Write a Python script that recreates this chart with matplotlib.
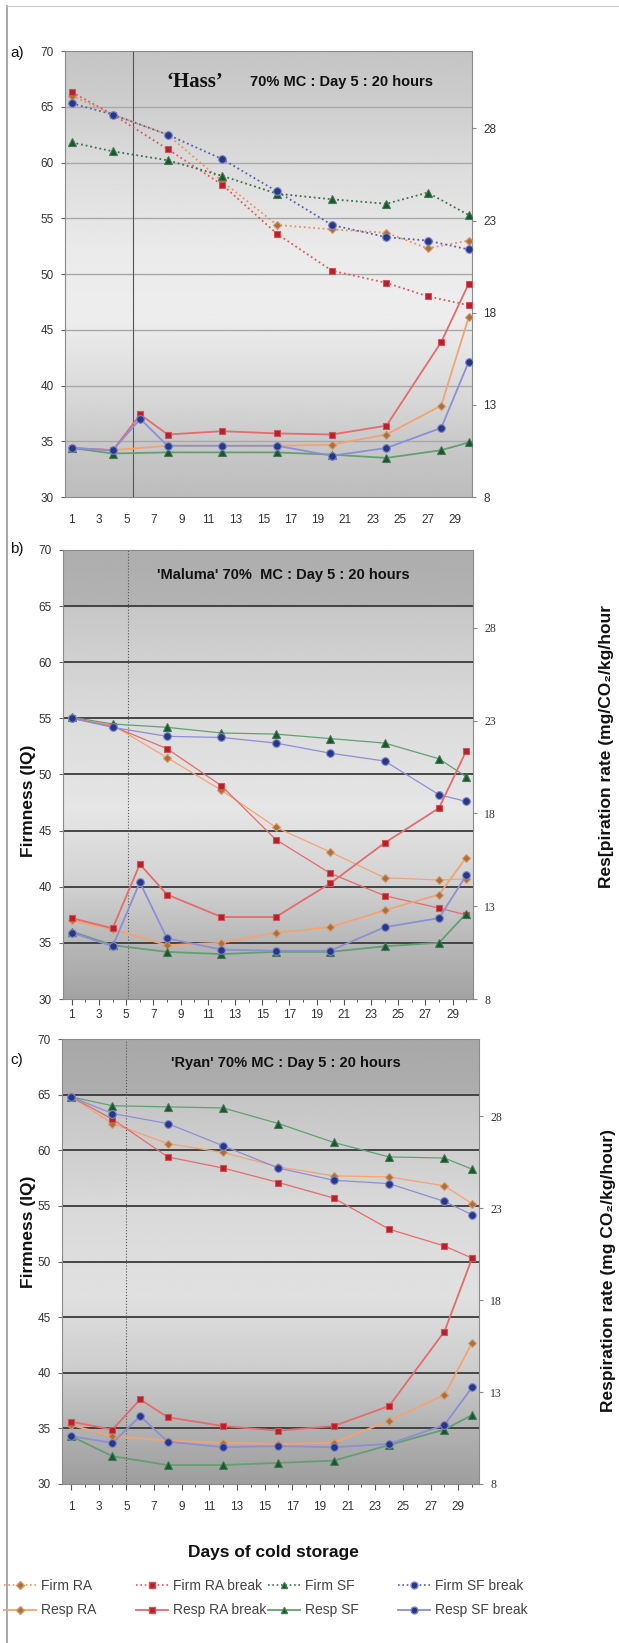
import numpy as np
import matplotlib
matplotlib.use('Agg')
import matplotlib.pyplot as plt
from matplotlib.lines import Line2D
from matplotlib.ticker import MultipleLocator

plt.rcParams['font.family'] = ['Liberation Sans', 'DejaVu Sans']

W, H = 619, 1643

# sampling days
firm_days_hass = [1, 4, 8, 12, 16, 20, 24, 27, 30]
firm_days = [1, 4, 8, 12, 16, 20, 24, 28, 30]
resp_days = [1, 4, 8, 12, 16, 20, 24, 28, 30]
resp_days_break = [1, 4, 6, 8, 12, 16, 20, 24, 28, 30]

# a) Hass  (firmness on left axis, respiration on right axis)
hass_firm_ra = [66.0, 64.3, 62.5, 58.3, 54.4, 54.0, 53.7, 52.3, 53.0]
hass_firm_ra_break = [66.3, 64.3, 61.2, 58.0, 53.6, 50.3, 49.2, 48.0, 47.2]
hass_firm_sf = [61.8, 61.0, 60.2, 58.8, 57.2, 56.7, 56.3, 57.3, 55.3]
hass_firm_sf_break = [65.3, 64.3, 62.5, 60.3, 57.4, 54.4, 53.3, 53.0, 52.2]
hass_resp_ra = [10.66, 10.54, 10.78, 10.78, 10.78, 10.84, 11.39, 12.96, 17.74]
hass_resp_ra_break = [10.66, 10.54, 12.48, 11.39, 11.57, 11.45, 11.39, 11.87, 16.41, 19.56]
hass_resp_sf = [10.66, 10.36, 10.42, 10.42, 10.42, 10.30, 10.12, 10.54, 10.96]
hass_resp_sf_break = [10.66, 10.54, 12.24, 10.78, 10.78, 10.78, 10.24, 10.66, 11.75, 15.32]

# b) Maluma
mal_firm_ra = [55.0, 54.4, 51.5, 48.6, 45.3, 43.1, 40.8, 40.6, 40.7]
mal_firm_ra_break = [55.0, 54.3, 52.3, 49.0, 44.2, 41.2, 39.2, 38.1, 37.5]
mal_firm_sf = [55.1, 54.5, 54.2, 53.7, 53.6, 53.2, 52.8, 51.4, 49.8]
mal_firm_sf_break = [55.0, 54.2, 53.4, 53.3, 52.8, 51.9, 51.2, 48.2, 47.6]
mal_resp_ra = [12.24, 11.75, 10.90, 11.03, 11.57, 11.87, 12.78, 13.63, 15.62]
mal_resp_ra_break = [12.36, 11.81, 15.26, 13.63, 12.42, 12.42, 14.23, 16.41, 18.29, 21.37]
mal_resp_sf = [11.63, 10.90, 10.54, 10.42, 10.54, 10.54, 10.84, 11.03, 12.60]
mal_resp_sf_break = [11.57, 10.84, 14.29, 11.27, 10.66, 10.60, 10.60, 11.87, 12.36, 14.66]

# c) Ryan
ryan_firm_ra = [64.8, 62.4, 60.6, 59.8, 58.5, 57.7, 57.6, 56.8, 55.2]
ryan_firm_ra_break = [64.8, 62.8, 59.4, 58.4, 57.1, 55.7, 52.9, 51.4, 50.3]
ryan_firm_sf = [64.8, 64.0, 63.9, 63.8, 62.4, 60.7, 59.4, 59.3, 58.3]
ryan_firm_sf_break = [64.8, 63.3, 62.4, 60.4, 58.4, 57.3, 57.0, 55.4, 54.2]
ryan_resp_ra = [11.21, 10.60, 10.36, 10.24, 10.18, 10.24, 11.45, 12.84, 15.68]
ryan_resp_ra_break = [11.39, 10.96, 12.60, 11.63, 11.15, 10.90, 11.15, 12.24, 16.29, 20.28]
ryan_resp_sf = [10.60, 9.51, 9.03, 9.03, 9.15, 9.27, 10.12, 10.96, 11.75]
ryan_resp_sf_break = [10.60, 10.24, 11.69, 10.30, 10.00, 10.06, 10.00, 10.18, 11.21, 13.26]

firm_labels = ['Firm RA', 'Firm RA break', 'Firm SF', 'Firm SF break']
resp_labels = ['Resp RA', 'Resp RA break', 'Resp SF', 'Resp SF break']
left_ticks = [30, 35, 40, 45, 50, 55, 60, 65, 70]
right_ticks = [8, 13, 18, 23, 28]
x_ticks = list(range(1, 30, 2))

# styles
markers = ['D', 's', '^', 'o']
msizes = [4.5, 5.0, 5.5, 5.5]
line_cols = ['#f3a373', '#e46c6c', '#62a072', '#8e8ed6']
dot_cols = ['#e8935e', '#de5a5a', '#3d6e4e', '#5562a6']
face_cols = ['#a8703f', '#b3202f', '#1c5530', '#283784']
edge_cols = ['#d99a6a', '#d85050', '#3f7a52', '#7c86d0']

fig = plt.figure(figsize=(W / 100, H / 100), dpi=100)


def px_rect(l, t, r, b):
    return [l / W, 1 - b / H, (r - l) / W, (b - t) / H]


def add_bg(ax, stops, xlim):
    lv = np.linspace(30, 70, 300)
    g = np.interp(lv, [s[0] for s in stops], [s[1] for s in stops])
    img = np.repeat(g[:, None], 2, axis=1)
    ax.imshow(img, extent=(xlim[0], xlim[1], 30, 70), origin='lower', cmap='gray',
              vmin=0, vmax=1, aspect='auto', zorder=0, interpolation='bilinear')


def panel(rect, xlim, fdays, firm, resp, bg, grid_col, grid_lw, vx, vls,
          firm_dotted, rfont, xpad, minor):
    ax = fig.add_axes(rect)
    add_bg(ax, bg, xlim)
    for v in left_ticks[1:-1]:
        ax.axhline(v, color=grid_col, lw=grid_lw, zorder=1)
    ax.axvline(vx, color='#555555', lw=0.8, ls=vls, zorder=1)

    for i in range(4):
        if firm_dotted:
            ax.plot(fdays, firm[i], color=dot_cols[i], lw=1.3, ls=(0, (1, 1.6)), zorder=3)
        else:
            ax.plot(fdays, firm[i], color=line_cols[i], lw=0.9, zorder=3)
        ax.plot(fdays, firm[i], ls='none', marker=markers[i], ms=msizes[i],
                mfc=face_cols[i], mec=edge_cols[i], mew=0.8, zorder=4)

    ax.set_xlim(*xlim)
    ax.set_ylim(30, 70)
    ax.set_yticks(left_ticks)
    ax.set_xticks(x_ticks)
    if minor:
        ax.xaxis.set_minor_locator(MultipleLocator(1))
        ax.tick_params(axis='x', which='major', length=4, width=0.8, color='#555555',
                       pad=xpad, labelsize=8.5, labelcolor='#333333')
        ax.tick_params(axis='x', which='minor', length=2.5, width=0.7, color='#555555')
    else:
        ax.tick_params(axis='x', length=0, pad=xpad, labelsize=8.5, labelcolor='#333333')
    ax.tick_params(axis='y', length=3, width=0.8, color='#666666', pad=5,
                   labelsize=8.5, labelcolor='#333333')
    for s in ax.spines.values():
        s.set_color('#8a8a8a')
        s.set_linewidth(0.8)

    ax2 = ax.twinx()
    for i in range(4):
        d = resp_days_break if i % 2 == 1 else resp_days
        ax2.plot(d, resp[i], color=line_cols[i], lw=1.3, marker=markers[i], ms=msizes[i],
                 mfc=face_cols[i], mec=edge_cols[i], mew=0.8, zorder=3)
    ax2.set_ylim(8, 32.2)
    ax2.set_yticks(right_ticks)
    ax2.tick_params(axis='y', length=3, width=0.8, color='#888888', pad=5,
                    labelsize=8.5, labelcolor='#333333')
    for lab in ax2.get_yticklabels():
        lab.set_family(rfont)
    for s in ax2.spines.values():
        s.set_visible(False)
    return ax, ax2


bg_a = [(30, 0.74), (35, 0.79), (40, 0.86), (46, 0.93), (52, 0.92), (60, 0.86), (66, 0.80), (70, 0.77)]
bg_b = [(30, 0.64), (35, 0.72), (40, 0.82), (47, 0.90), (55, 0.86), (64.9, 0.78), (65.1, 0.70), (70, 0.68)]
bg_c = [(30, 0.62), (35, 0.70), (40, 0.80), (47, 0.88), (55, 0.85), (64.9, 0.77), (65.1, 0.68), (70, 0.66)]

ax_a, _ = panel(px_rect(65, 51, 472, 497), (0.5, 30.25), firm_days_hass,
                [hass_firm_ra, hass_firm_ra_break, hass_firm_sf, hass_firm_sf_break],
                [hass_resp_ra, hass_resp_ra_break, hass_resp_sf, hass_resp_sf_break],
                bg_a, '#a8a8a8', 1.0, 5.5, '-', True, 'Liberation Sans', 12, False)
ax_b, _ = panel(px_rect(63, 550, 473, 999), (0.35, 30.5), firm_days,
                [mal_firm_ra, mal_firm_ra_break, mal_firm_sf, mal_firm_sf_break],
                [mal_resp_ra, mal_resp_ra_break, mal_resp_sf, mal_resp_sf_break],
                bg_b, '#3a3a3a', 1.3, 5.1, ':', False, 'Liberation Serif', 3, True)
ax_c, _ = panel(px_rect(62, 1039, 479, 1484), (0.35, 30.5), firm_days,
                [ryan_firm_ra, ryan_firm_ra_break, ryan_firm_sf, ryan_firm_sf_break],
                [ryan_resp_ra, ryan_resp_ra_break, ryan_resp_sf, ryan_resp_sf_break],
                bg_c, '#3a3a3a', 1.3, 5.0, ':', False, 'Liberation Serif', 8, True)

# panel titles
ax_a.text(0.25, 0.93, '\u2018Hass\u2019', transform=ax_a.transAxes, ha='left', va='center',
          fontsize=15, fontweight='bold', family='Liberation Serif', color='#111111')
ax_a.text(0.455, 0.93, '70% MC : Day 5 : 20 hours', transform=ax_a.transAxes, ha='left',
          va='center', fontsize=10.5, fontweight='bold', color='#111111')
ax_b.text(0.23, 0.944, "'Maluma' 70%  MC : Day 5 : 20 hours", transform=ax_b.transAxes,
          ha='left', va='center', fontsize=10.5, fontweight='bold', color='#111111')
ax_c.text(0.262, 0.947, "'Ryan' 70% MC : Day 5 : 20 hours", transform=ax_c.transAxes,
          ha='left', va='center', fontsize=10.5, fontweight='bold', color='#111111')

# panel letters
for lab, y in [('a)', 53), ('b)', 549), ('c)', 1060)]:
    fig.text(10 / W, 1 - y / H, lab, fontsize=11, color='#111111', va='center', ha='left')

# axis labels
fig.text(28 / W, 1 - 801 / H, 'Firmness (IQ)', rotation=90, ha='center', va='center',
         fontsize=12.5, fontweight='bold', color='#111111')
fig.text(28 / W, 1 - 1232 / H, 'Firmness (IQ)', rotation=90, ha='center', va='center',
         fontsize=12.5, fontweight='bold', color='#111111')
fig.text(606 / W, 1 - 746 / H, 'Res[piration rate (mg/CO\u2082/kg/hour', rotation=90,
         ha='center', va='center', fontsize=12.5, fontweight='bold', color='#111111')
fig.text(608 / W, 1 - 1270 / H, 'Respiration rate (mg CO\u2082/kg/hour)', rotation=90,
         ha='center', va='center', fontsize=12.5, fontweight='bold', color='#111111')
fig.text(273 / W, 1 - 1552 / H, 'Days of cold storage', ha='center', va='center',
         fontsize=12.5, fontweight='bold', color='#111111')

# legend, one column per treatment
col_x = [4, 136, 268, 398]
for i in range(4):
    hf = Line2D([], [], color=dot_cols[i], lw=1.2, ls=(0, (1, 1.6)), marker=markers[i],
                ms=msizes[i] - 0.5, mfc=face_cols[i], mec=edge_cols[i])
    hr = Line2D([], [], color=line_cols[i], lw=1.3, marker=markers[i],
                ms=msizes[i] - 0.5, mfc=face_cols[i], mec=edge_cols[i])
    fig.legend([hf, hr], [firm_labels[i], resp_labels[i]], loc='upper left',
               bbox_to_anchor=(col_x[i] / W, 1 - 1579 / H), frameon=False, fontsize=10,
               handlelength=2.3, handletextpad=0.35, labelspacing=0.75, borderpad=0,
               borderaxespad=0, labelcolor='#444444')

# figure frame (left and top edge)
fig.add_artist(Line2D([7 / W, 7 / W], [0, 1 - 6 / H], color='#9a9a9a', lw=1.2))
fig.add_artist(Line2D([7 / W, 1], [1 - 6 / H, 1 - 6 / H], color='#c8c8c8', lw=0.8))

fig.savefig('out.png', dpi=100)
